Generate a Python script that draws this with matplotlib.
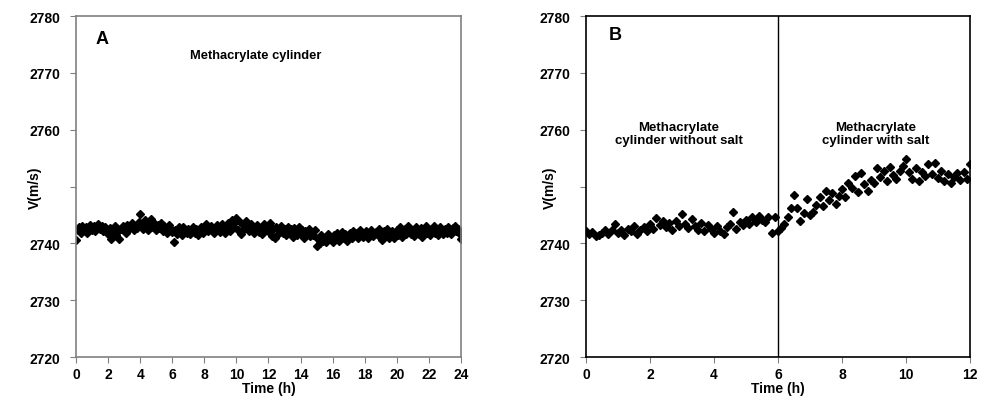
import numpy as np
import matplotlib.pyplot as plt

plt.rcParams['font.family'] = ['Liberation Sans', 'DejaVu Sans']
plt.rcParams['font.weight'] = 'bold'

# sampling step of both records (h)
dt = 0.1

# y tick labels (2750 is covered by the axis title in the original)
yticks = [2720, 2730, 2740, 2750, 2760, 2770, 2780]
ylabels = ['2720', '2730', '2740', '', '2760', '2770', '2780']

# panel A: methacrylate cylinder, 0-24 h
vA = [2740.6, 2742.3, 2742.8, 2741.9, 2743.1, 2742.5, 2742.9, 2741.8, 2742.6, 2743.2,
      2742.4, 2743.0, 2742.1, 2742.8, 2743.4, 2742.6, 2743.1, 2742.2, 2742.9, 2742.5,
      2741.6, 2742.7, 2740.7, 2742.3, 2743.0, 2741.4, 2742.2, 2740.8, 2742.6, 2743.0,
      2742.5, 2741.9, 2743.2, 2742.6, 2742.9, 2743.6, 2742.4, 2743.1, 2742.7, 2743.8,
      2745.1, 2743.4, 2742.6, 2744.2, 2743.0, 2742.4, 2743.7, 2744.3, 2742.8, 2743.5,
      2742.3, 2743.2, 2742.7, 2743.6, 2742.1, 2743.0, 2742.5, 2741.8, 2743.3, 2742.6,
      2742.0, 2740.2, 2742.4, 2741.7, 2742.9, 2742.2, 2741.5, 2742.8, 2742.1, 2741.9,
      2742.6, 2741.6, 2742.3, 2742.9, 2741.8, 2742.5, 2741.5, 2742.2, 2742.8, 2741.9,
      2742.4, 2743.5, 2742.1, 2742.7, 2743.1, 2742.3, 2741.9, 2742.8, 2743.2, 2742.5,
      2742.0, 2743.4, 2742.6, 2741.8, 2742.9, 2743.6, 2742.2, 2744.1, 2743.0, 2743.7,
      2744.5, 2742.4, 2743.8, 2741.6, 2743.2, 2742.5, 2744.0, 2742.9, 2742.1, 2743.4,
      2742.6, 2741.9, 2742.8, 2743.3, 2742.0, 2742.7, 2741.6, 2743.5, 2742.4, 2743.1,
      2742.2, 2743.6, 2741.3, 2742.5, 2741.0, 2742.8, 2741.7, 2742.3, 2743.0, 2741.8,
      2742.6, 2741.4, 2742.9, 2741.9, 2742.5, 2741.1, 2742.7, 2742.0, 2741.5, 2742.8,
      2741.6, 2742.3, 2741.0, 2742.1, 2741.7, 2742.6, 2741.3, 2742.0, 2741.5, 2742.4,
      2739.6, 2740.8, 2740.1, 2741.4, 2740.5, 2741.0, 2740.3, 2741.6, 2740.7, 2741.2,
      2740.2, 2741.5, 2740.8, 2741.9, 2740.4, 2741.3, 2742.0, 2740.9, 2741.6, 2740.5,
      2741.2, 2741.8, 2740.9, 2742.1, 2741.4, 2741.9, 2741.0, 2742.3, 2741.6, 2741.1,
      2741.5, 2742.2, 2741.0, 2741.8, 2742.4, 2741.3, 2741.9, 2742.0, 2741.4, 2742.6,
      2741.7, 2740.6, 2742.1, 2741.4, 2742.5, 2741.0, 2741.8, 2742.2, 2740.9, 2741.6,
      2742.3, 2741.5, 2742.8, 2741.2, 2742.0, 2742.6, 2741.7, 2743.0, 2742.1, 2741.6,
      2742.4, 2741.3, 2742.9, 2742.0, 2741.6, 2742.7, 2741.2, 2742.3, 2743.1, 2741.8,
      2742.2, 2741.5, 2742.6, 2743.0, 2741.9, 2742.4, 2741.4, 2742.8, 2742.1, 2741.7,
      2742.5, 2741.8, 2742.9, 2742.2, 2741.6, 2742.7, 2743.0, 2742.1, 2742.6, 2741.9,
      2740.7]

# panel B: without salt (0-6 h), with salt (6-12 h)
vB = [2742.2, 2741.6, 2742.0, 2741.3, 2741.5, 2741.9, 2742.3, 2741.6, 2742.4, 2743.4,
      2741.8, 2742.3, 2741.5, 2742.6, 2742.1, 2743.0, 2741.7, 2742.4, 2742.9, 2742.2,
      2743.4, 2742.6, 2744.5, 2743.2, 2744.0, 2742.8, 2743.6, 2742.3, 2743.9, 2743.1,
      2745.2, 2743.5, 2742.7, 2744.3, 2743.0, 2742.4, 2743.6, 2742.1, 2743.2, 2742.6,
      2741.9, 2743.0, 2742.2, 2741.7, 2742.8, 2743.4, 2745.6, 2742.6, 2743.8, 2743.2,
      2744.1, 2743.4, 2744.6, 2743.7, 2744.9, 2744.2, 2743.8, 2744.6, 2741.8, 2744.7,
      2742.1, 2742.7, 2743.4, 2744.6, 2746.3, 2748.6, 2746.2, 2744.0, 2745.3, 2747.9,
      2745.0, 2745.6, 2746.8, 2748.1, 2746.5, 2749.2, 2747.6, 2748.9, 2746.9, 2748.3,
      2749.5, 2748.2, 2750.6, 2749.8, 2751.9, 2749.1, 2752.3, 2750.4, 2749.3, 2751.2,
      2750.7, 2753.2, 2751.6, 2752.8, 2750.9, 2753.5, 2752.0, 2751.3, 2752.7, 2753.6,
      2754.8, 2752.6, 2751.4, 2753.3, 2750.9, 2752.5, 2751.8, 2753.9, 2752.2, 2754.2,
      2751.5, 2752.8, 2751.0, 2752.2, 2750.6, 2751.7, 2752.4, 2751.1, 2752.6, 2751.3,
      2753.9]

tA = np.arange(len(vA)) * dt
tB = np.arange(len(vB)) * dt
t_salt = 6

fig = plt.figure(figsize=(9.82, 4.06), dpi=100)
axA = fig.add_axes([0.0774, 0.118, 0.392, 0.840])
axB = fig.add_axes([0.5967, 0.118, 0.391, 0.840])

def style(ax, edge, lab_x):
    for s in ax.spines.values():
        s.set_color(edge)
        s.set_linewidth(1.2)
    ax.set_ylim(2720, 2780)
    ax.set_yticks(yticks)
    ax.set_yticklabels(ylabels)
    ax.tick_params(direction='out', length=4, color='#808080', labelsize=10)
    ax.tick_params(axis='y', pad=7)
    ax.tick_params(axis='x', pad=3)
    for lab in ax.get_xticklabels() + ax.get_yticklabels():
        lab.set_fontweight('bold')
    ax.set_xlabel('Time (h)', fontsize=10, fontweight='bold', labelpad=0)
    ax.set_ylabel('V(m/s)', fontsize=10, fontweight='bold')
    ax.yaxis.set_label_coords(lab_x, 0.5)

axA.plot(tA, vA, ls='none', marker='D', ms=3.9, color='black')
axA.set_xlim(0, 24)
axA.set_xticks(np.arange(0, 25, 2))
style(axA, '#808080', -0.088)
axA.text(1.2, 2776, 'A', fontsize=13, fontweight='bold', va='center')
axA.text(11.2, 2773.1, 'Methacrylate cylinder', fontsize=9.3, fontweight='bold',
         ha='center', va='center')

axB.plot(tB, vB, ls='none', marker='D', ms=4.2, color='black')
axB.axvline(t_salt, color='black', lw=1)
axB.set_xlim(0, 12)
axB.set_xticks(np.arange(0, 13, 2))
style(axB, 'black', -0.075)
axB.text(0.7, 2776.7, 'B', fontsize=13, fontweight='bold', va='center')
axB.text(2.9, 2759.3, 'Methacrylate\ncylinder without salt', fontsize=9.5,
         fontweight='bold', ha='center', va='center', linespacing=1.1)
axB.text(9.05, 2759.3, 'Methacrylate\ncylinder with salt', fontsize=9.5,
         fontweight='bold', ha='center', va='center', linespacing=1.1)

fig.savefig('out.png', dpi=100)
